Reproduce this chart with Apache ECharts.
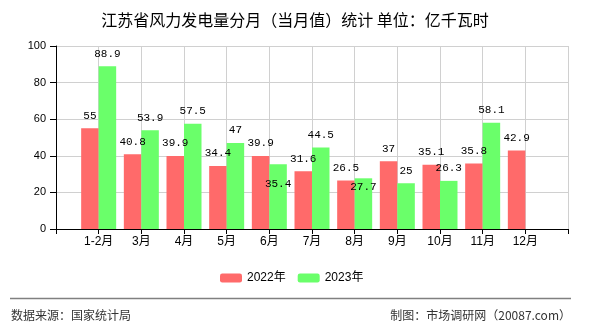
<!DOCTYPE html>
<html><head><meta charset="utf-8">
<script src="https://cdn.jsdelivr.net/npm/echarts@6/dist/echarts.min.js"></script>
<style>html,body{margin:0;padding:0;background:#fff}#c{width:590px;height:330px}</style>
</head><body><div id="c"></div>
<script>
const categories = ['1-2月','3月','4月','5月','6月','7月','8月','9月','10月','11月','12月'];
const values2022 = [55, 40.8, 39.9, 34.4, 39.9, 31.6, 26.5, 37, 35.1, 35.8, 42.9];
const values2023 = [88.9, 53.9, 57.5, 47, 35.4, 44.5, 27.7, 25, 26.3, 58.1, null];
const yTicks = [0, 20, 40, 60, 80, 100];
const seriesNames = ['2022年', '2023年'];
const titleText = '江苏省风力发电量分月（当月值）统计 单位：亿千瓦时';
const sourceText = '数据来源：国家统计局';
const creditText = '制图：市场调研网（20087.com）';

// labels pushed below the bar top in the reference (to avoid overlapping neighbours)
const labelDrop2023 = { '6月': 32, '8月': 21 };

const axisData = [''].concat(categories, ['']);
function buildData(vals, drops) {
  const out = [{ value: '-' }];
  vals.forEach((v, i) => {
    const item = { value: v == null ? '-' : v };
    const d = drops && drops[categories[i]];
    if (d) item.label = { offset: [0, d] };
    out.push(item);
  });
  out.push({ value: '-' });
  return out;
}

const labelFont = { fontFamily: 'Liberation Mono, monospace', fontSize: 11, color: '#000' };
const chart = echarts.init(document.getElementById('c'), null, { renderer: 'canvas' });
chart.setOption({
  animation: false,
  backgroundColor: '#fff',
  title: {
    text: titleText, left: 'center', top: 7,
    textStyle: { fontSize: 16, fontWeight: 'normal', color: '#000', fontFamily: 'Noto Sans CJK SC' }
  },
  legend: {
    data: seriesNames, left: 215, top: 267, itemWidth: 22, itemHeight: 9, itemGap: 12,
    textStyle: { fontSize: 12, color: '#000', fontFamily: 'Liberation Sans, Noto Sans CJK SC' }
  },
  grid: { left: 56, right: 22, top: 46, bottom: 101, containLabel: false },
  xAxis: {
    type: 'category', data: axisData, boundaryGap: false,
    axisLine: { lineStyle: { color: '#000', width: 1 } },
    axisTick: { show: true, length: 5, interval: 0, lineStyle: { color: '#000' } },
    axisLabel: { interval: 0, margin: 7, fontSize: 12, color: '#000', fontFamily: 'Liberation Sans, Noto Sans CJK SC' },
    splitLine: { show: true, interval: 0, lineStyle: { color: '#d0d0d0', width: 1 } }
  },
  yAxis: {
    type: 'value', min: yTicks[0], max: yTicks[yTicks.length - 1], interval: yTicks[1] - yTicks[0],
    axisLine: { show: true, lineStyle: { color: '#000', width: 1 } },
    axisTick: { show: true, length: 6, lineStyle: { color: '#000' } },
    axisLabel: { margin: 10, fontSize: 11, color: '#000', fontFamily: 'Liberation Sans' },
    splitLine: { show: true, lineStyle: { color: '#d0d0d0', width: 1 } }
  },
  series: [
    {
      name: seriesNames[0], type: 'bar', barWidth: 17.5, barGap: '0%',
      itemStyle: { color: '#ff6a6a' },
      label: Object.assign({ show: true, position: 'top', distance: 7 }, labelFont),
      data: buildData(values2022, null)
    },
    {
      name: seriesNames[1], type: 'bar', barWidth: 17.5, barGap: '0%',
      itemStyle: { color: '#6aff6a' },
      label: Object.assign({ show: true, position: 'top', distance: 7 }, labelFont),
      data: buildData(values2023, labelDrop2023)
    }
  ],
  graphic: [
    { type: 'line', shape: { x1: 10, y1: 298.5, x2: 571, y2: 298.5 }, style: { stroke: '#808080', lineWidth: 1.5 } },
    { type: 'text', left: 11, top: 309, style: { text: sourceText, fontSize: 12, fill: '#333', fontFamily: 'Noto Sans CJK SC' } },
    { type: 'text', right: 19, top: 309, style: { text: creditText, fontSize: 12, fill: '#333', fontFamily: 'Noto Sans CJK SC' } }
  ]
});
</script></body></html>
